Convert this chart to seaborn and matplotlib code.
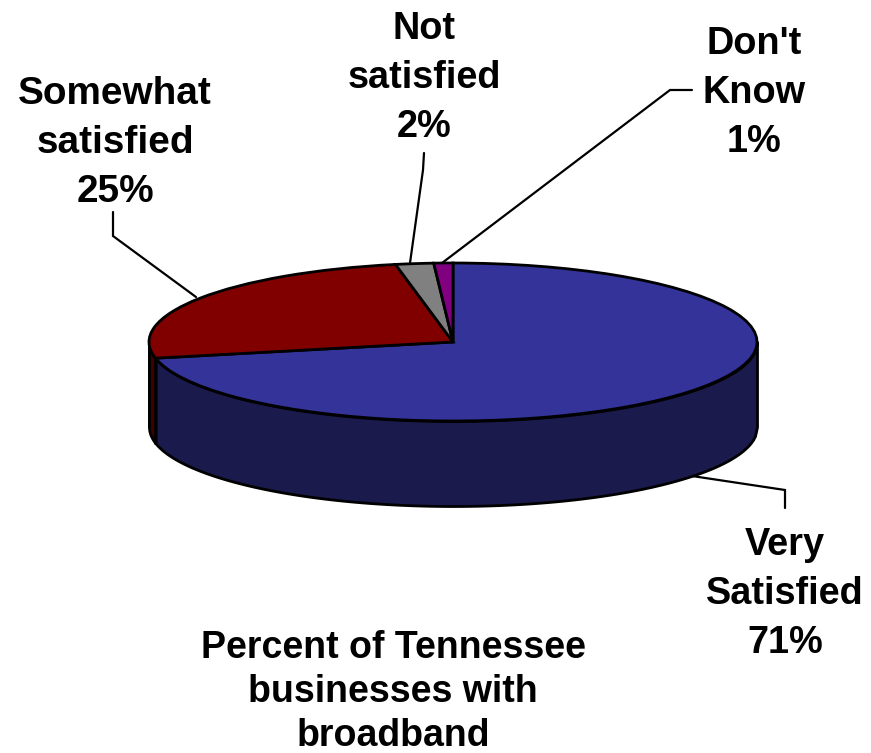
import numpy as np
import matplotlib
matplotlib.use("Agg")
import matplotlib.pyplot as plt
import seaborn as sns

# Survey shares, in pie order (clockwise from twelve o'clock)
categories = ["Very\nSatisfied", "Somewhat\nsatisfied", "Not\nsatisfied", "Don't\nKnow"]
percents = [71, 25, 2, 1]
title_text = "Percent of Tennessee\nbusinesses with\nbroadband"

top_colors = ["#333399", "#800000", "#808080", "#800080"]
wall_colors = ["#1A1A4D", "#400000"]

sns.set_theme(style="white")
plt.rcParams["font.family"] = ["Liberation Sans", "DejaVu Sans"]

W, H = 871, 753
CX, CY, RX, RY, DEPTH = 453, 342, 304, 79, 85

fig = plt.figure(figsize=(W / 100, H / 100), dpi=100, facecolor="white")

# Page layer in pixel units, for the leader lines and the labels
page = fig.add_axes([0, 0, 1, 1])
page.set_xlim(0, W)
page.set_ylim(H, 0)
page.axis("off")

# Disc layer: a unit pie stretched into an ellipse
disc = fig.add_axes([(CX - RX) / W, 1 - (CY + RY) / H, 2 * RX / W, 2 * RY / H])
wedges, _ = disc.pie(percents, colors=top_colors, startangle=90, counterclock=False,
                     radius=1, center=(0, 0),
                     wedgeprops=dict(edgecolor="black", linewidth=2.0, zorder=3))
disc.set_aspect("auto")
disc.set_xlim(-1, 1)
disc.set_ylim(-1, 1)
disc.axis("off")

# Side wall below the front rim; blue and red meet where their shared radius reaches the rim
depth_u = DEPTH / RY
split = np.sin(2 * np.pi * percents[0] / sum(percents))
for lo, hi, col in [(split, 1.0, wall_colors[0]), (-1.0, split, wall_colors[1])]:
    xs = np.linspace(lo, hi, 300)
    rim = -np.sqrt(np.clip(1 - xs ** 2, 0, 1))
    disc.fill_between(xs, rim, rim - depth_u, color=col, edgecolor="black",
                      linewidth=2.0, clip_on=False, zorder=1)
    disc.plot([lo, lo], [-np.sqrt(1 - lo ** 2), -np.sqrt(1 - lo ** 2) - depth_u],
              color="black", lw=2.0, clip_on=False, zorder=2)

# Leader lines from the labels to their slices
leaders = [
    ([785, 785, 692], [508, 490, 476]),
    ([113, 113, 196], [212, 236, 297]),
    ([424, 423, 410], [153, 170, 263]),
    ([692, 670, 442], [90, 90, 263]),
]
for lx, ly in leaders:
    page.plot(lx, ly, color="black", lw=1.6, solid_joinstyle="miter")

# Category labels with their percentages
label_pos = [(785, 594), (115, 143), (424, 78), (754, 93)]
label_sizes = [27.3, 27.9, 27.3, 27.3]
for name, pct, (x, y), size in zip(categories, percents, label_pos, label_sizes):
    page.text(x, y, f"{name}\n{pct}%", ha="center", va="center", fontsize=size,
              fontweight="bold", color="black", linespacing=1.45)

page.text(393, 692, title_text, ha="center", va="center", fontsize=27,
          fontweight="bold", color="black", linespacing=1.3)

fig.savefig("out.png", dpi=100, facecolor="white")
